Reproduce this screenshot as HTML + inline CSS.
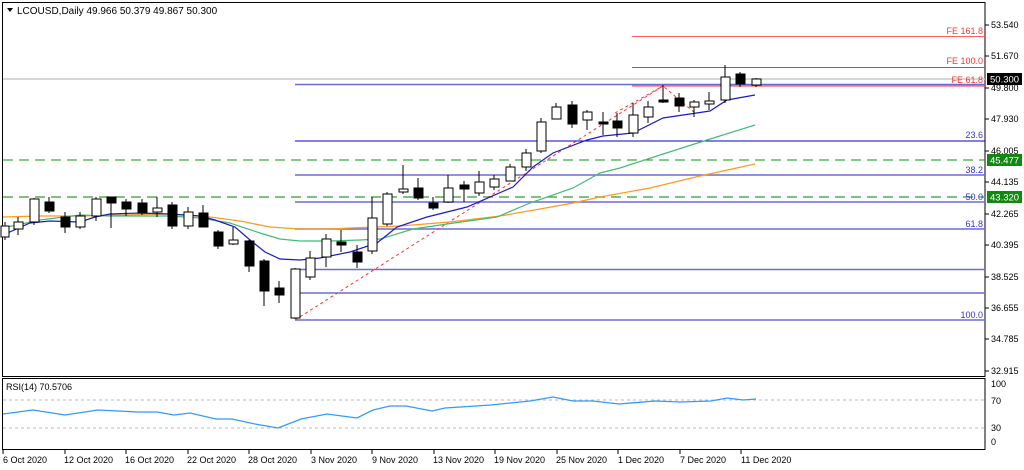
<!DOCTYPE html>
<html><head><meta charset="utf-8"><style>
html,body{margin:0;padding:0;background:#fff;}
svg{display:block;font-family:"Liberation Sans",sans-serif;}
</style></head><body>
<svg width="1024" height="470" viewBox="0 0 1024 470" xmlns="http://www.w3.org/2000/svg">
<rect width="1024" height="470" fill="#fff"/>
<!-- frames -->
<rect x="2.5" y="2.5" width="982.5" height="374" fill="none" stroke="#000" stroke-width="1"/>
<rect x="2.5" y="378.5" width="982.5" height="71" fill="none" stroke="#000" stroke-width="1"/>
<!-- header -->
<polygon points="7,8 13,8 10,12" fill="#000"/>
<text x="17" y="14" font-size="10" fill="#000">LCOUSD,Daily  49.966 50.379 49.867 50.300</text>
<!-- horizontal levels -->
<line x1="3" y1="79" x2="985" y2="79" stroke="#c8c8c8" stroke-width="1.5"/>
<g stroke="#6b6bd6" stroke-width="1.5">
<line x1="295" y1="84.5" x2="985" y2="84.5"/>
<line x1="295" y1="175" x2="985" y2="175"/>
<line x1="295" y1="202" x2="985" y2="202"/>
<line x1="295" y1="229" x2="985" y2="229"/>
<line x1="295" y1="269.5" x2="985" y2="269.5"/>
<line x1="295" y1="293" x2="985" y2="293"/>
<line x1="295" y1="320" x2="985" y2="320"/>
</g>
<line x1="295" y1="141" x2="985" y2="141" stroke="#0000cc" stroke-width="1"/>
<g stroke="#ff3030" stroke-width="1">
<line x1="632" y1="36.5" x2="985" y2="36.5" stroke="#ff6060"/>
<line x1="632" y1="67.5" x2="985" y2="67.5"/>
<line x1="632" y1="86" x2="985" y2="86"/>
</g>
<line x1="3" y1="160" x2="985" y2="160" stroke="#119911" stroke-width="1" stroke-dasharray="10,6"/>
<line x1="3" y1="197" x2="985" y2="197" stroke="#55aa55" stroke-width="1.5" stroke-dasharray="10,6"/>
<!-- level labels -->
<g font-size="9" text-anchor="end">
<text x="983" y="34" fill="#ff3030">FE 161.8</text>
<text x="983" y="64" fill="#ff3030">FE 100.0</text>
<text x="983" y="83" fill="#ff3030">FE 61.8</text>
<text x="983" y="138" fill="#3333cc">23.6</text>
<text x="983" y="173" fill="#3333cc">38.2</text>
<text x="983" y="200" fill="#3333cc">50.0</text>
<text x="983" y="227" fill="#3333cc">61.8</text>
<text x="983" y="318" fill="#3333cc">100.0</text>
</g>
<!-- fib dashed -->
<g stroke="#ff3030" stroke-width="1" stroke-dasharray="3,3" fill="none">
<polyline points="295,320 663,86 695,113"/>
<line x1="615" y1="113" x2="663" y2="86"/>
</g>
<!-- MAs -->
<polyline fill="none" stroke="#ff9922" stroke-width="1.3" points="3,217 40,216 80,216 120,215 170,214 210,217 240,221 270,227 300,229 330,229 350,228 400,226 450,222 500,216 540,209 573,203 600,197 650,188 700,176 755,164"/>
<polyline fill="none" stroke="#44bb77" stroke-width="1.2" points="3,228 40,220 80,215 110,216 140,216 170,216 200,218 230,223 260,233 280,239 300,241 330,241 360,240 380,239 413,229 447,224 497,217 530,203 573,188 600,173 620,168 660,155 707,140 755,125"/>
<polyline fill="none" stroke="#1a1acc" stroke-width="1.2" points="3,235 30,223 50,221 80,222 95,217 110,214 140,213 170,214 200,216 215,220 235,227 250,240 265,252 280,259 300,260 320,258 350,252 377,243 397,227 427,217 467,207 513,187 533,167 553,153 587,140 603,136 633,133 663,118 710,111 727,100 755,95"/>
<!-- candles -->
<g stroke="#000" stroke-width="1">
<!-- x, wickTop, wickBot, bodyTop, bodyBot, fill -->
<line x1="5" y1="222" x2="5" y2="240"/><rect x="1" y="226" width="8" height="11" fill="#fff"/>
<line x1="18" y1="217" x2="18" y2="235"/><rect x="14" y="222" width="9" height="7" fill="#fff"/>
<line x1="34" y1="198" x2="34" y2="225"/><rect x="30" y="199" width="9" height="23" fill="#fff"/>
<line x1="49" y1="197" x2="49" y2="213"/><rect x="45" y="202" width="9" height="9" fill="#000"/>
<line x1="65" y1="212" x2="65" y2="233"/><rect x="61" y="217" width="9" height="10" fill="#000"/>
<line x1="80" y1="212" x2="80" y2="229"/><rect x="76" y="216" width="9" height="11" fill="#fff"/>
<line x1="96" y1="197" x2="96" y2="221"/><rect x="92" y="199" width="9" height="17" fill="#fff"/>
<line x1="111" y1="197" x2="111" y2="228"/><rect x="107" y="197" width="9" height="6" fill="#000"/>
<line x1="126" y1="199" x2="126" y2="216"/><rect x="122" y="202" width="9" height="7" fill="#000"/>
<line x1="142" y1="199" x2="142" y2="215"/><rect x="138" y="203" width="9" height="10" fill="#000"/>
<line x1="157" y1="197" x2="157" y2="217"/><rect x="153" y="208" width="9" height="4" fill="#fff"/>
<line x1="172" y1="202" x2="172" y2="229"/><rect x="168" y="205" width="9" height="21" fill="#000"/>
<line x1="188" y1="207" x2="188" y2="229"/><rect x="184" y="212" width="9" height="14" fill="#fff"/>
<line x1="203" y1="205" x2="203" y2="227"/><rect x="199" y="213" width="9" height="14" fill="#000"/>
<line x1="218" y1="230" x2="218" y2="249"/><rect x="214" y="232" width="9" height="14" fill="#000"/>
<line x1="233" y1="227" x2="233" y2="245"/><rect x="229" y="240" width="9" height="4" fill="#fff"/>
<line x1="249" y1="240" x2="249" y2="272"/><rect x="245" y="241" width="9" height="25" fill="#000"/>
<line x1="264" y1="259" x2="264" y2="306"/><rect x="260" y="261" width="9" height="30" fill="#000"/>
<line x1="279" y1="281" x2="279" y2="303"/><rect x="275" y="288" width="9" height="7" fill="#000"/>
<line x1="295" y1="268" x2="295" y2="319"/><rect x="291" y="269" width="9" height="49" fill="#fff"/>
<line x1="310" y1="251" x2="310" y2="280"/><rect x="306" y="258" width="9" height="19" fill="#fff"/>
<line x1="326" y1="234" x2="326" y2="267"/><rect x="322" y="239" width="9" height="18" fill="#fff"/>
<line x1="341" y1="230" x2="341" y2="252"/><rect x="337" y="242" width="9" height="3" fill="#000"/>
<line x1="357" y1="245" x2="357" y2="268"/><rect x="353" y="252" width="9" height="10" fill="#000"/>
<line x1="372" y1="197" x2="372" y2="254"/><rect x="368" y="218" width="9" height="33" fill="#fff"/>
<line x1="387" y1="192" x2="387" y2="226"/><rect x="383" y="194" width="9" height="30" fill="#fff"/>
<line x1="403" y1="165" x2="403" y2="194"/><rect x="399" y="189" width="9" height="3" fill="#fff"/>
<line x1="418" y1="178" x2="418" y2="200"/><rect x="414" y="188" width="9" height="10" fill="#000"/>
<line x1="433" y1="197" x2="433" y2="210"/><rect x="429" y="203" width="9" height="5" fill="#000"/>
<line x1="448" y1="175" x2="448" y2="203"/><rect x="444" y="188" width="9" height="14" fill="#fff"/>
<line x1="464" y1="181" x2="464" y2="202"/><rect x="460" y="185" width="9" height="4" fill="#000"/>
<line x1="479" y1="171" x2="479" y2="196"/><rect x="475" y="182" width="9" height="11" fill="#fff"/>
<line x1="494" y1="175" x2="494" y2="190"/><rect x="490" y="179" width="9" height="8" fill="#fff"/>
<line x1="510" y1="164" x2="510" y2="181"/><rect x="506" y="167" width="9" height="14" fill="#fff"/>
<line x1="526" y1="149" x2="526" y2="171"/><rect x="522" y="153" width="9" height="14" fill="#fff"/>
<line x1="541" y1="118" x2="541" y2="153"/><rect x="537" y="122" width="9" height="29" fill="#fff"/>
<line x1="556" y1="103" x2="556" y2="119"/><rect x="552" y="107" width="9" height="12" fill="#fff"/>
<line x1="572" y1="101" x2="572" y2="128"/><rect x="568" y="105" width="9" height="19" fill="#000"/>
<line x1="587" y1="110" x2="587" y2="130"/><rect x="583" y="112" width="9" height="8" fill="#fff"/>
<line x1="603" y1="112" x2="603" y2="135"/><rect x="599" y="122" width="9" height="2" fill="#000"/>
<line x1="617" y1="113" x2="617" y2="137"/><rect x="613" y="121" width="9" height="7" fill="#000"/>
<line x1="633" y1="103" x2="633" y2="137"/><rect x="629" y="115" width="9" height="18" fill="#fff"/>
<line x1="648" y1="101" x2="648" y2="123"/><rect x="644" y="107" width="9" height="10" fill="#fff"/>
<line x1="663" y1="85" x2="663" y2="103"/><rect x="659" y="100" width="9" height="2" fill="#000"/>
<line x1="679" y1="93" x2="679" y2="112"/><rect x="675" y="98" width="9" height="8" fill="#000"/>
<line x1="694" y1="100" x2="694" y2="117"/><rect x="690" y="102" width="9" height="5" fill="#fff"/>
<line x1="709" y1="92" x2="709" y2="110"/><rect x="705" y="101" width="9" height="3" fill="#fff"/>
<line x1="725" y1="65" x2="725" y2="103"/><rect x="721" y="77" width="9" height="23" fill="#fff"/>
<line x1="740" y1="72" x2="740" y2="87"/><rect x="736" y="74" width="9" height="10" fill="#000"/>
<line x1="756" y1="78" x2="756" y2="87"/><rect x="752" y="79" width="9" height="6" fill="#fff"/>
</g>
<!-- price axis -->
<g font-size="9" fill="#000">
<g stroke="#000"><line x1="985" y1="25" x2="989" y2="25"/><line x1="985" y1="56" x2="989" y2="56"/><line x1="985" y1="88" x2="989" y2="88"/><line x1="985" y1="119" x2="989" y2="119"/><line x1="985" y1="151" x2="989" y2="151"/><line x1="985" y1="182" x2="989" y2="182"/><line x1="985" y1="214" x2="989" y2="214"/><line x1="985" y1="245" x2="989" y2="245"/><line x1="985" y1="277" x2="989" y2="277"/><line x1="985" y1="308" x2="989" y2="308"/><line x1="985" y1="339" x2="989" y2="339"/><line x1="985" y1="371" x2="989" y2="371"/></g>
<text x="991" y="28">53.540</text>
<text x="991" y="59">51.670</text>
<text x="991" y="91">49.800</text>
<text x="991" y="122">47.930</text>
<text x="991" y="154">46.005</text>
<text x="991" y="185">44.135</text>
<text x="991" y="217">42.265</text>
<text x="991" y="248">40.395</text>
<text x="991" y="280">38.525</text>
<text x="991" y="311">36.655</text>
<text x="991" y="342">34.785</text>
<text x="991" y="374">32.915</text>
</g>
<rect x="987" y="73" width="35" height="12" fill="#000"/>
<text x="990" y="82.5" font-size="9.5" fill="#fff">50.300</text>
<rect x="987" y="154" width="35" height="12" fill="#118811"/>
<text x="990" y="163.5" font-size="9.5" fill="#fff">45.477</text>
<rect x="987" y="191" width="35" height="12" fill="#118811"/>
<text x="990" y="200.5" font-size="9.5" fill="#fff">43.320</text>
<!-- RSI -->
<text x="6" y="390" font-size="9" fill="#000">RSI(14) 70.5706</text>
<line x1="3" y1="400" x2="985" y2="400" stroke="#bbb" stroke-dasharray="3,3"/>
<line x1="3" y1="428" x2="985" y2="428" stroke="#bbb" stroke-dasharray="3,3"/>
<polyline fill="none" stroke="#3399ff" stroke-width="1.3" points="3,414 33,410 65,415 98,410 138,412 157,412 174,415 190,413 216,419 232,419 255,424 278,428 301,419 327,414 357,418 373,410 390,406 406,406 432,411 445,408 491,405 530,401 553,397 573,401 593,401 619,404 655,401 681,402 711,401 727,398 743,400 756,399"/>
<g font-size="9" fill="#000">
<text x="991" y="387">100</text>
<text x="991" y="404">70</text>
<text x="991" y="431">30</text>
<text x="991" y="445">0</text>
</g>
<!-- dates -->
<g stroke="#000"><line x1="3" y1="450" x2="3" y2="454"/><line x1="65" y1="450" x2="65" y2="454"/><line x1="126" y1="450" x2="126" y2="454"/><line x1="188" y1="450" x2="188" y2="454"/><line x1="249" y1="450" x2="249" y2="454"/><line x1="311" y1="450" x2="311" y2="454"/><line x1="372" y1="450" x2="372" y2="454"/><line x1="434" y1="450" x2="434" y2="454"/><line x1="495" y1="450" x2="495" y2="454"/><line x1="557" y1="450" x2="557" y2="454"/><line x1="618" y1="450" x2="618" y2="454"/><line x1="680" y1="450" x2="680" y2="454"/><line x1="741" y1="450" x2="741" y2="454"/></g>
<g font-size="9" fill="#000">
<text x="3" y="463">6 Oct 2020</text>
<text x="64" y="463">12 Oct 2020</text>
<text x="125" y="463">16 Oct 2020</text>
<text x="187" y="463">22 Oct 2020</text>
<text x="248" y="463">28 Oct 2020</text>
<text x="311" y="463">3 Nov 2020</text>
<text x="372" y="463">9 Nov 2020</text>
<text x="433" y="463">13 Nov 2020</text>
<text x="494" y="463">19 Nov 2020</text>
<text x="556" y="463">25 Nov 2020</text>
<text x="618" y="463">1 Dec 2020</text>
<text x="680" y="463">7 Dec 2020</text>
<text x="741" y="463">11 Dec 2020</text>
</g>
</svg>
</body></html>
